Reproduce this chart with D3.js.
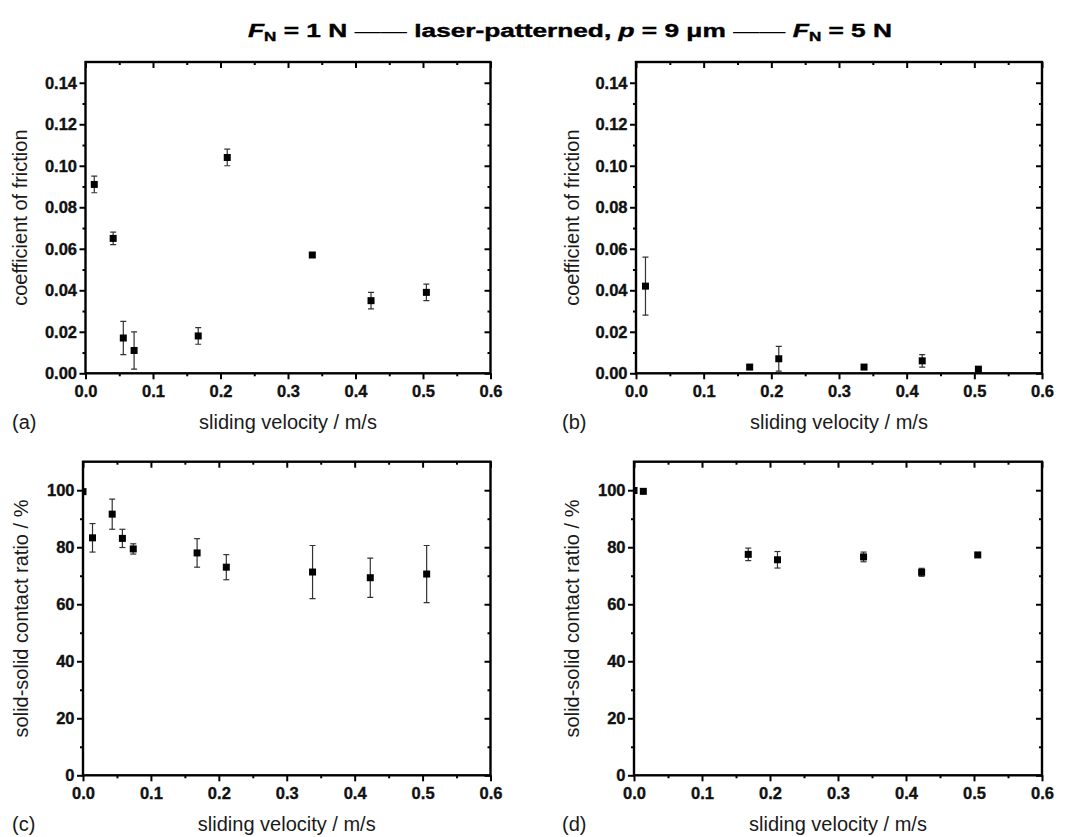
<!DOCTYPE html>
<meta charset="utf-8">
<style>

body {
  margin: 0;
  background: #ffffff;
}

svg {
  font-family: 'Liberation Sans', Arial, sans-serif;
}

.frame {
  fill: none;
  stroke: #000000;
  stroke-width: 2.4;
}

.tick line, .minor line {
  stroke: #000000;
  stroke-width: 2;
}

.domain {
  display: none;
}

.tick text {
  font-size: 16.5px;
  font-weight: 700;
  fill: #111111;
  stroke: #111111;
  stroke-width: 0.35;
}

.err {
  stroke: #333333;
  stroke-width: 1.2;
}

.marker {
  fill: #000000;
}

text.label {
  font-size: 20px;
  fill: #1a1a1a;
}

text.title {
  font-size: 18.5px;
  font-weight: 700;
  fill: #000000;
  stroke: #000000;
  stroke-width: 0.4;
}

</style>
<body>
<svg width="1075" height="837"></svg>

<script src="https://d3js.org/d3.v7.min.js"></script>
<script>

    // tick labels
    const velocityTicks = [0, 0.1, 0.2, 0.3, 0.4, 0.5, 0.6]
    const frictionTicks = [0, 0.02, 0.04, 0.06, 0.08, 0.10, 0.12, 0.14]
    const ratioTicks = [0, 20, 40, 60, 80, 100]

    // (a) F_N = 1 N, coefficient of friction
    const velocityA = [0.013, 0.041, 0.056, 0.072, 0.167, 0.210, 0.336, 0.423, 0.505]
    const frictionA = [0.091, 0.065, 0.017, 0.011, 0.018, 0.104, 0.057, 0.035, 0.039]
    const frictionErrA = [0.004, 0.003, 0.008, 0.009, 0.004, 0.004, 0.001, 0.004, 0.004]

    // (b) F_N = 5 N, coefficient of friction
    const velocityB = [0.014, 0.168, 0.211, 0.337, 0.423, 0.506]
    const frictionB = [0.042, 0.003, 0.007, 0.003, 0.006, 0.002]
    const frictionErrB = [0.014, 0.001, 0.006, 0.001, 0.003, 0.0005]

    // (c) F_N = 1 N, solid-solid contact ratio
    const velocityC = [0, 0.014, 0.043, 0.058, 0.074, 0.168, 0.211, 0.338, 0.423, 0.506]
    const ratioC = [99.5, 83.3, 91.6, 83.1, 79.4, 78.0, 73.0, 71.3, 69.3, 70.6]
    const ratioErrC = [0, 5.0, 5.3, 3.2, 1.8, 5.0, 4.4, 9.3, 6.9, 10.0]

    // (d) F_N = 5 N, solid-solid contact ratio
    const velocityD = [0, 0.0137, 0.168, 0.211, 0.3376, 0.423, 0.5055]
    const ratioD = [99.9, 99.6, 77.5, 75.6, 76.6, 71.2, 77.3]
    const ratioErrD = [0, 0, 2.2, 2.9, 1.7, 1.4, 0.5]

    const svg = d3.select('svg')

    const panels = [
      { letter: '(a)', x: velocityA, y: frictionA, err: frictionErrA,
        left: 85.5, right: 490.5, top: 62, bottom: 373.3, labelX: 20, letterX: 12,
        yDomain: [0, 0.15], yTicks: frictionTicks, yMinor: d3.range(0.01, 0.15, 0.02),
        yFormat: d3.format('.2f'), yLabel: 'coefficient of friction' },
      { letter: '(b)', x: velocityB, y: frictionB, err: frictionErrB,
        left: 636, right: 1042, top: 62, bottom: 373.3, labelX: 572, letterX: 562,
        yDomain: [0, 0.15], yTicks: frictionTicks, yMinor: d3.range(0.01, 0.15, 0.02),
        yFormat: d3.format('.2f'), yLabel: 'coefficient of friction' },
      { letter: '(c)', x: velocityC, y: ratioC, err: ratioErrC,
        left: 83, right: 490.5, top: 461.7, bottom: 775.3, labelX: 21, letterX: 12,
        yDomain: [0, 110], yTicks: ratioTicks, yMinor: d3.range(10, 110, 20),
        yFormat: d3.format('d'), yLabel: 'solid-solid contact ratio / %' },
      { letter: '(d)', x: velocityD, y: ratioD, err: ratioErrD,
        left: 634, right: 1042, top: 461.7, bottom: 775.3, labelX: 572, letterX: 562,
        yDomain: [0, 110], yTicks: ratioTicks, yMinor: d3.range(10, 110, 20),
        yFormat: d3.format('d'), yLabel: 'solid-solid contact ratio / %' }
    ]

    const xMinor = d3.range(0.05, 0.6, 0.1)

    panels.forEach((p, i) => {
      const width = p.right - p.left
      const height = p.bottom - p.top

      const xScale = d3.scaleLinear().domain([0, 0.6]).range([0, width])
      const yScale = d3.scaleLinear().domain(p.yDomain).range([height, 0])

      const chart = svg.append('g')
        .attr('transform', `translate(${p.left}, ${p.top})`)

      svg.append('clipPath')
        .attr('id', 'clip' + i)
        .append('rect')
        .attr('width', width)
        .attr('height', height)

      // bottom axis, outward ticks
      chart.append('g')
        .attr('transform', `translate(0, ${height})`)
        .call(d3.axisBottom(xScale).tickValues(velocityTicks).tickFormat(d3.format('.1f'))
          .tickSize(6).tickPadding(6).tickSizeOuter(0))
      chart.append('g')
        .attr('class', 'minor')
        .attr('transform', `translate(0, ${height})`)
        .call(d3.axisBottom(xScale).tickValues(xMinor).tickFormat('').tickSize(3).tickSizeOuter(0))

      // left axis, outward ticks
      chart.append('g')
        .call(d3.axisLeft(yScale).tickValues(p.yTicks).tickFormat(p.yFormat)
          .tickSize(6).tickPadding(2.5).tickSizeOuter(0))
      chart.append('g')
        .attr('class', 'minor')
        .call(d3.axisLeft(yScale).tickValues(p.yMinor).tickFormat('').tickSize(3).tickSizeOuter(0))

      // top and right, inward ticks
      chart.append('g')
        .call(d3.axisTop(xScale).tickValues(velocityTicks).tickFormat('').tickSize(-6).tickSizeOuter(0))
      chart.append('g')
        .attr('class', 'minor')
        .call(d3.axisTop(xScale).tickValues(xMinor).tickFormat('').tickSize(-3).tickSizeOuter(0))
      chart.append('g')
        .attr('transform', `translate(${width}, 0)`)
        .call(d3.axisRight(yScale).tickValues(p.yTicks).tickFormat('').tickSize(-6).tickSizeOuter(0))
      chart.append('g')
        .attr('class', 'minor')
        .attr('transform', `translate(${width}, 0)`)
        .call(d3.axisRight(yScale).tickValues(p.yMinor).tickFormat('').tickSize(-3).tickSizeOuter(0))

      const pts = p.x.map((v, k) => ({ v: v, y: p.y[k], e: p.err[k] }))

      const plot = chart.append('g')
        .attr('clip-path', `url(#clip${i})`)

      const bars = plot.selectAll('.errbar')
        .data(pts.filter((d) => d.e > 0))
        .enter()
        .append('g')
        .attr('class', 'err')

      bars.append('line')
        .attr('x1', (d) => xScale(d.v))
        .attr('x2', (d) => xScale(d.v))
        .attr('y1', (d) => yScale(d.y - d.e))
        .attr('y2', (d) => yScale(d.y + d.e))
      bars.append('line')
        .attr('x1', (d) => xScale(d.v) - 3)
        .attr('x2', (d) => xScale(d.v) + 3)
        .attr('y1', (d) => yScale(d.y + d.e))
        .attr('y2', (d) => yScale(d.y + d.e))
      bars.append('line')
        .attr('x1', (d) => xScale(d.v) - 3)
        .attr('x2', (d) => xScale(d.v) + 3)
        .attr('y1', (d) => yScale(d.y - d.e))
        .attr('y2', (d) => yScale(d.y - d.e))

      plot.selectAll('.marker')
        .data(pts)
        .enter()
        .append('rect')
        .attr('class', 'marker')
        .attr('x', (d) => xScale(d.v) - 3.5)
        .attr('y', (d) => yScale(d.y) - 3.5)
        .attr('width', 7)
        .attr('height', 7)

      chart.append('rect')
        .attr('class', 'frame')
        .attr('width', width)
        .attr('height', height)

      svg.append('text')
        .attr('class', 'label')
        .attr('x', p.left + width / 2)
        .attr('y', p.bottom + 56)
        .attr('text-anchor', 'middle')
        .text('sliding velocity / m/s')

      svg.append('text')
        .attr('class', 'label')
        .attr('x', p.letterX)
        .attr('y', p.bottom + 56)
        .text(p.letter)

      svg.append('text')
        .attr('class', 'label')
        .attr('transform', `translate(${p.labelX + 7}, ${p.top + height / 2}) rotate(-90)`)
        .attr('text-anchor', 'middle')
        .text(p.yLabel)
    })

    // title, drawn wide like the original heavy face
    const title = svg.append('text')
      .attr('class', 'title')
      .attr('transform', 'translate(570, 37) scale(1.42, 1)')
      .attr('text-anchor', 'middle')

    const addF = (t) => {
      t.append('tspan').attr('font-style', 'italic').text('F')
      t.append('tspan').attr('font-size', '12px').attr('dy', 4).text('N')
      t.append('tspan').attr('dy', -4).text(' ')
    }
    addF(title)
    title.append('tspan').text('= 1 N ')
    title.append('tspan').attr('font-weight', 400).attr('stroke-width', 0).text('——')
    title.append('tspan').text('  laser-patterned, ')
    title.append('tspan').attr('font-style', 'italic').text('p')
    title.append('tspan').text(' = 9 μm  ')
    title.append('tspan').attr('font-weight', 400).attr('stroke-width', 0).text('——')
    title.append('tspan').text('  ')
    addF(title)
    title.append('tspan').text('= 5 N')

</script>
</body>
